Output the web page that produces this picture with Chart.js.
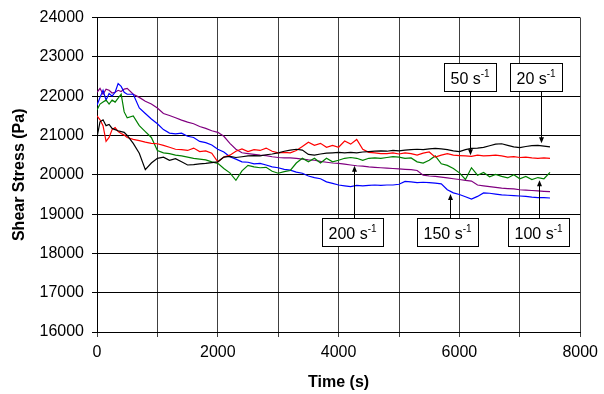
<!DOCTYPE html>
<html>
<head>
<meta charset="utf-8">
<script src="https://cdn.jsdelivr.net/npm/chart.js@4.4.1/dist/chart.umd.min.js"></script>
<style>
  html, body { margin: 0; padding: 0; background: #fff; }
</style>
</head>
<body>
<canvas id="chart" width="604" height="394"></canvas>
<script>
// time axis (s)
const times = [0, 50, 100, 150, 200, 250, 300, 350, 400, 450, 500,
  600, 700, 800, 900, 1000, 1100, 1200, 1300, 1400, 1500,
  1600, 1700, 1800, 1900, 2000, 2100, 2200, 2300, 2400, 2500,
  2600, 2700, 2800, 2900, 3000, 3100, 3200, 3300, 3400, 3500,
  3600, 3700, 3800, 3900, 4000, 4100, 4200, 4300, 4400, 4500,
  4600, 4700, 4800, 4900, 5000, 5100, 5200, 5300, 5400, 5500,
  5600, 5700, 5800, 5900, 6000, 6100, 6200, 6300, 6400, 6500,
  6600, 6700, 6800, 6900, 7000, 7100, 7200, 7300, 7400, 7500];

// shear stress (Pa) per shear rate
const stress20 = [20950, 21350, 21400, 21250, 21280, 21180, 21150, 21120, 21100, 21080, 21000,
  20800, 20550, 20130, 20300, 20420, 20450, 20370, 20410, 20330, 20250,
  20260, 20280, 20290, 20310, 20330, 20450, 20470, 20440, 20460, 20480,
  20490, 20480, 20510, 20530, 20560, 20600, 20630, 20650, 20630, 20520,
  20500, 20530, 20550, 20560, 20570, 20560, 20570, 20560, 20580, 20590,
  20600, 20610, 20600, 20620, 20610, 20630, 20640, 20650, 20640, 20660,
  20670, 20660, 20640, 20610, 20590, 20640, 20670, 20680, 20700, 20740,
  20780, 20790, 20750, 20710, 20690, 20720, 20740, 20750, 20730, 20710];

const stress50 = [21500, 21400, 21250, 20850, 20950, 21150, 21200, 21100, 21050, 21010, 20950,
  20900, 20870, 20830, 20800, 20790, 20750, 20700, 20650, 20640, 20620,
  20680, 20590, 20610, 20550, 20330, 20450, 20500, 20600, 20660, 20590,
  20640, 20620, 20680, 20600, 20560, 20570, 20560, 20620, 20720, 20830,
  20750, 20800, 20700, 20750, 20700, 20860, 20780, 20900, 20650, 20570,
  20560, 20540, 20540, 20560, 20530, 20560, 20540, 20500, 20550, 20580,
  20450, 20500, 20540, 20500, 20490, 20480, 20470, 20500, 20480, 20490,
  20500, 20480, 20450, 20460, 20440, 20450, 20430, 20420, 20430, 20420];

const stress100 = [21650, 21800, 21850, 21900, 21800, 21900, 21850, 21950, 22050, 21600, 21450,
  21500, 21250, 21100, 20950, 20620, 20560, 20540, 20500, 20480, 20450,
  20420, 20400, 20380, 20330, 20290, 20160, 20050, 19860, 20100, 20240,
  20200, 20180, 20190, 20090, 20040, 20080, 20110, 20300, 20420, 20330,
  20420, 20300, 20420, 20330, 20370, 20420, 20440, 20420, 20370, 20420,
  20430, 20420, 20440, 20460, 20450, 20420, 20430, 20330, 20300, 20370,
  20480, 20280, 20240, 20160, 20050, 19880, 20180, 19990, 20060, 19950,
  20010, 19960, 19920, 20000, 19900, 19960, 19880, 19930, 19900, 20060];

const stress150 = [21770, 21970, 22150, 21900, 22070, 22000, 22100, 22320, 22250, 22100, 22050,
  22050, 21700, 21560, 21420, 21300, 21150, 21060, 21040, 21060, 20980,
  20950, 20850, 20820, 20760, 20650, 20580, 20460, 20400, 20330, 20320,
  20280, 20290, 20250, 20200, 20180, 20140, 20120, 20070, 20040, 19970,
  19930, 19900, 19820, 19780, 19740, 19720, 19700, 19730, 19720, 19730,
  19740, 19730, 19740, 19740, 19760, 19830, 19820, 19800, 19810, 19800,
  19790, 19770, 19620, 19540, 19500, 19440, 19380, 19450, 19540, 19530,
  19510, 19490, 19480, 19470, 19460, 19450, 19430, 19420, 19420, 19410];

const stress200 = [22100, 22200, 22050, 22180, 22150, 22080, 22100, 22150, 22120, 22180, 22200,
  22050, 21970, 21870, 21800, 21700, 21560, 21510, 21450, 21390, 21340,
  21300, 21230, 21180, 21120, 21080, 20980, 20800, 20650, 20560, 20540,
  20520, 20500, 20490, 20460, 20440, 20430, 20430, 20420, 20400, 20380,
  20370, 20340, 20320, 20300, 20290, 20270, 20250, 20230, 20220, 20200,
  20190, 20180, 20170, 20160, 20150, 20140, 20130, 20110, 19990, 19970,
  19960, 19940, 19920, 19900, 19880, 19860, 19840, 19740, 19720, 19700,
  19680, 19660, 19650, 19640, 19620, 19610, 19600, 19590, 19580, 19570];

// callout labels: box centre and arrow tip in data units
const calloutRates = ["200", "150", "100", "50", "20"];
const calloutBoxT = [4230, 5800, 7310, 6170, 7270];
const calloutBoxS = [18540, 18540, 18540, 22500, 22500];
const calloutTipT = [4260, 5840, 7320, 6170, 7350];
const calloutTipS = [20230, 19510, 19860, 20500, 20800];

const fontFamily = "'Liberation Sans', Arial, sans-serif";

function toPoints(values) {
    return times.map((t, i) => ({ x: t, y: values[i] }));
}

function makeSet(label, values, color) {
    return {
        label: label,
        data: toPoints(values),
        borderColor: color,
        backgroundColor: color,
        borderWidth: 1.2,
        pointRadius: 0,
        tension: 0,
        fill: false,
    };
}

//boxes with arrows
const calloutPlugin = {
    id: "callouts",
    afterDatasetsDraw(chart) {
        const ctx = chart.ctx;
        const xs = chart.scales.x;
        const ys = chart.scales.y;
        ctx.save();
        ctx.lineWidth = 1;
        ctx.strokeStyle = "#000";
        for (let i = 0; i < calloutRates.length; i++) {
            const bx = xs.getPixelForValue(calloutBoxT[i]);
            const by = ys.getPixelForValue(calloutBoxS[i]);
            const tx = Math.round(xs.getPixelForValue(calloutTipT[i])) + 0.5;
            const ty = ys.getPixelForValue(calloutTipS[i]);
            const mainText = calloutRates[i] + " s";
            ctx.font = "16px " + fontFamily;
            const w1 = ctx.measureText(mainText).width;
            ctx.font = "10px " + fontFamily;
            const w2 = ctx.measureText("-1").width;
            const w = Math.round(w1 + w2 + 13);
            const h = 28;
            const left = Math.round(bx - w / 2) + 0.5;
            const top = Math.round(by - h / 2) + 0.5;
            const down = ty > by;
            const startY = down ? top + h : top;
            const dir = down ? 1 : -1;
            ctx.beginPath();
            ctx.moveTo(tx, startY);
            ctx.lineTo(tx, ty - dir * 4);
            ctx.stroke();
            ctx.fillStyle = "#000";
            ctx.beginPath();
            ctx.moveTo(tx, ty);
            ctx.lineTo(tx - 2.5, ty - dir * 6);
            ctx.lineTo(tx + 2.5, ty - dir * 6);
            ctx.closePath();
            ctx.fill();
            ctx.fillStyle = "#fff";
            ctx.fillRect(left, top, w, h);
            ctx.strokeRect(left, top, w, h);
            ctx.fillStyle = "#000";
            ctx.textBaseline = "alphabetic";
            ctx.textAlign = "left";
            const textX = left + 6;
            const baseY = top + h / 2 + 6;
            ctx.font = "16px " + fontFamily;
            ctx.fillText(mainText, textX, baseY);
            ctx.font = "10px " + fontFamily;
            ctx.fillText("-1", textX + w1, baseY - 7);
        }
        ctx.restore();
    },
};

new Chart(document.getElementById("chart"), {
    type: "line",
    data: {
        datasets: [
            makeSet("20 s-1", stress20, "#000000"),
            makeSet("50 s-1", stress50, "#ff0000"),
            makeSet("100 s-1", stress100, "#008000"),
            makeSet("150 s-1", stress150, "#0000ff"),
            makeSet("200 s-1", stress200, "#800080"),
        ],
    },
    options: {
        responsive: false,
        animation: false,
        layout: { padding: { top: 17, right: 20, bottom: 0, left: 0 } },
        plugins: {
            legend: { display: false },
            tooltip: { enabled: false },
        },
        scales: {
            x: {
                type: "linear",
                min: 0,
                max: 8000,
                afterFit: (scale) => { scale.height = 62; },
                ticks: {
                    stepSize: 1000,
                    autoSkip: false,
                    maxRotation: 0,
                    padding: 6,
                    color: "#000",
                    font: { family: fontFamily, size: 16 },
                    callback: (v) => (v % 2000 === 0 ? String(v) : ""),
                },
                grid: { color: "#404040", lineWidth: 1, tickLength: 5 },
                border: { color: "#000", width: 1 },
                title: {
                    display: true,
                    text: "Time (s)",
                    color: "#000",
                    font: { family: fontFamily, size: 16, weight: "bold" },
                    padding: { top: 0, bottom: 2 },
                },
            },
            y: {
                min: 16000,
                max: 24000,
                afterFit: (scale) => { scale.width = 97; },
                ticks: {
                    stepSize: 1000,
                    padding: 8,
                    color: "#000",
                    font: { family: fontFamily, size: 16 },
                    callback: (v) => String(v),
                },
                grid: { color: "#000", lineWidth: 1, tickLength: 5 },
                border: { color: "#000", width: 1 },
                title: {
                    display: true,
                    text: "Shear Stress (Pa)",
                    color: "#000",
                    font: { family: fontFamily, size: 16, weight: "bold" },
                    padding: { top: 10, bottom: 0 },
                },
            },
        },
    },
    plugins: [calloutPlugin],
});
</script>
</body>
</html>
